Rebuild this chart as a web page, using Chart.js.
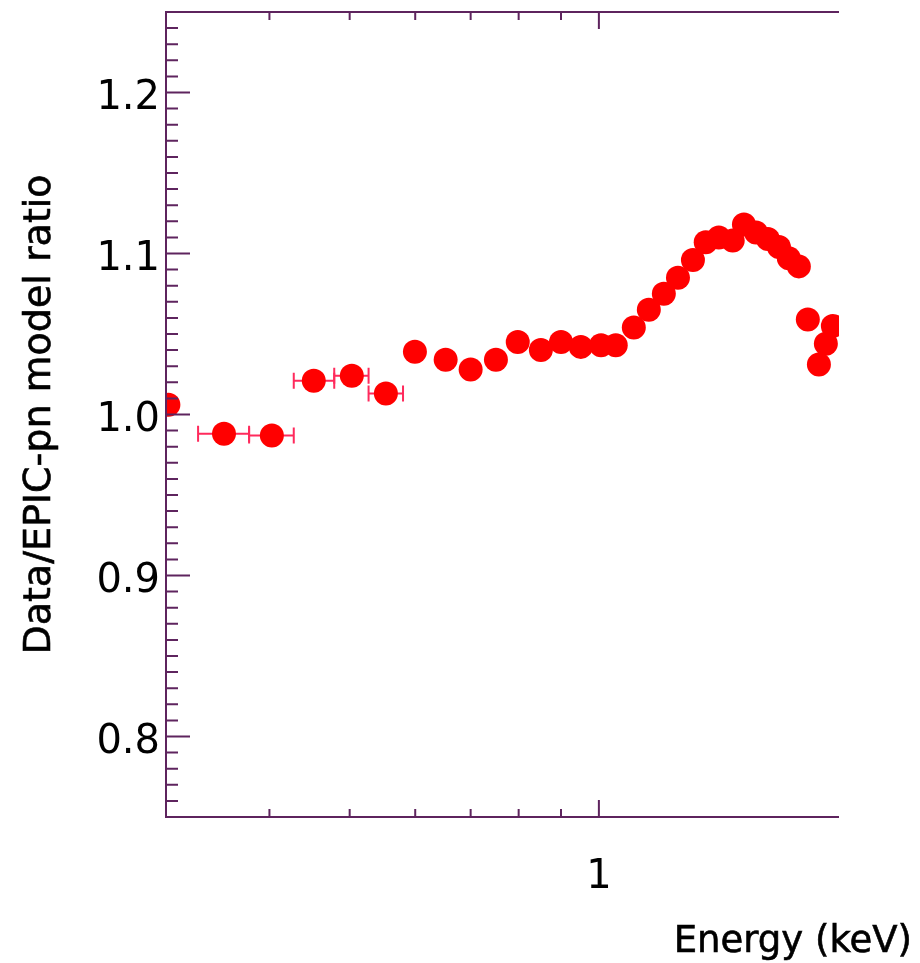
<!DOCTYPE html>
<html>
<head>
<meta charset="utf-8">
<title>Data/EPIC-pn model ratio</title>
<style>
  html, body { margin: 0; padding: 0; background: #fff; }
  canvas { display: block; }
</style>
<script src="https://cdn.jsdelivr.net/npm/chart.js@4.4.1/dist/chart.umd.min.js"></script>
</head>
<body>
<canvas id="ratioChart" width="920" height="963"></canvas>
<script>
// ratio data (energy in keV)
const energy = [0.302, 0.3525, 0.4027, 0.4525, 0.503, 0.553, 0.5995, 0.653, 0.700, 0.751,
                0.798, 0.851, 0.900, 0.951, 1.006, 1.048, 1.102, 1.149, 1.198, 1.246,
                1.299, 1.346, 1.396, 1.451, 1.497, 1.548, 1.600, 1.650, 1.696, 1.744,
                1.788, 1.844, 1.880, 1.917];
const ratio = [1.006, 0.988, 0.987, 1.021, 1.024, 1.013, 1.039, 1.034, 1.028, 1.034,
               1.045, 1.040, 1.045, 1.042, 1.043, 1.043, 1.054, 1.065, 1.075, 1.085,
               1.096, 1.107, 1.110, 1.108, 1.118, 1.113, 1.109, 1.104, 1.097, 1.092,
               1.059, 1.031, 1.044, 1.055];
// bin edges, only where the x error bar sticks out from under the marker
const binLo = [null, 0.328, 0.378, 0.428, 0.479, 0.527];
const binHi = [null, 0.378, 0.428, 0.479, 0.527, 0.580];

const xTicks = [0.4, 0.5, 0.6, 0.7, 0.8, 0.9, 1];
const xLabels = {1: '1'};
const yTicks = [0.8, 0.9, 1.0, 1.1, 1.2];
const yMinorStep = 0.01;

const AXIS = '#5e245e';
const FONT = '"DejaVu Sans", sans-serif';

// x error bars, drawn under the markers
const errorBars = {
  id: 'errorBars',
  beforeDatasetsDraw(chart) {
    const {ctx, chartArea: a, scales: {x, y}} = chart;
    ctx.save();
    ctx.beginPath();
    ctx.rect(a.left, a.top, a.right - a.left, a.bottom - a.top);
    ctx.clip();
    ctx.strokeStyle = '#ff2a5c';
    ctx.lineWidth = 2;
    for (let i = 0; i < binLo.length; i++) {
      if (binLo[i] == null) continue;
      const x0 = x.getPixelForValue(binLo[i]);
      const x1 = x.getPixelForValue(binHi[i]);
      const py = y.getPixelForValue(ratio[i]);
      ctx.beginPath();
      ctx.moveTo(x0, py); ctx.lineTo(x1, py);
      ctx.moveTo(x0, py - 8); ctx.lineTo(x0, py + 8);
      ctx.moveTo(x1, py - 8); ctx.lineTo(x1, py + 8);
      ctx.stroke();
    }
    ctx.restore();
  }
};

// IDL-style frame: left, bottom and top axes with inward ticks
const frame = {
  id: 'frame',
  afterDatasetsDraw(chart) {
    const {ctx, chartArea: a, scales: {x, y}} = chart;
    ctx.save();
    ctx.strokeStyle = AXIS;
    ctx.lineWidth = 2;
    ctx.beginPath();
    ctx.moveTo(a.right, a.top); ctx.lineTo(a.left, a.top);
    ctx.lineTo(a.left, a.bottom); ctx.lineTo(a.right, a.bottom);
    ctx.stroke();

    ctx.beginPath();
    for (const v of xTicks) {
      const px = x.getPixelForValue(v);
      const len = xLabels[v] ? 17 : 8;
      ctx.moveTo(px, a.bottom); ctx.lineTo(px, a.bottom - len);
      ctx.moveTo(px, a.top); ctx.lineTo(px, a.top + len);
    }
    const n = Math.round((y.max - y.min) / yMinorStep);
    for (let k = 1; k < n; k++) {
      const v = y.min + k * yMinorStep;
      const major = yTicks.some(t => Math.abs(t - v) < 1e-6);
      const py = y.getPixelForValue(v);
      ctx.moveTo(a.left, py); ctx.lineTo(a.left + (major ? 24 : 12), py);
    }
    ctx.stroke();
    ctx.restore();
  },
  afterDraw(chart) {
    const {ctx, chartArea: a} = chart;
    ctx.save();
    ctx.fillStyle = '#000';
    ctx.strokeStyle = '#000';
    ctx.lineWidth = 0.6;
    ctx.font = '37px ' + FONT;
    ctx.textAlign = 'right';
    ctx.textBaseline = 'alphabetic';
    ctx.fillText('Energy (keV)', 912, 952);
    ctx.strokeText('Energy (keV)', 912, 952);
    ctx.font = '38px ' + FONT;
    ctx.translate(50, (a.top + a.bottom) / 2);
    ctx.rotate(-Math.PI / 2);
    ctx.textAlign = 'center';
    ctx.fillText('Data/EPIC-pn model ratio', 0, 0);
    ctx.strokeText('Data/EPIC-pn model ratio', 0, 0);
    ctx.restore();
  }
};

const points = energy.map((e, i) => ({x: e, y: ratio[i]}));

new Chart(document.getElementById('ratioChart'), {
  type: 'scatter',
  data: {
    datasets: [{
      data: points,
      pointRadius: 12,
      pointHoverRadius: 12,
      pointBackgroundColor: '#ff0000',
      pointBorderWidth: 0,
      borderWidth: 0,
      clip: 0
    }]
  },
  options: {
    responsive: false,
    animation: false,
    devicePixelRatio: 1,
    layout: {padding: {top: 5, right: 81, left: 0, bottom: 0}},
    plugins: {legend: {display: false}, tooltip: {enabled: false}},
    scales: {
      x: {
        type: 'logarithmic',
        min: 0.3,
        max: 1.95,
        grid: {display: false, drawTicks: false},
        border: {display: false},
        afterBuildTicks: s => { s.ticks = xTicks.map(v => ({value: v})); },
        afterFit: s => { s.height = 146; s.paddingLeft = 0; s.paddingRight = 0; },
        ticks: {
          autoSkip: false,
          maxRotation: 0,
          padding: 37,
          color: '#000',
          font: {family: FONT, size: 40},
          callback: v => xLabels[v] || ''
        }
      },
      y: {
        min: 0.75,
        max: 1.25,
        grid: {display: false, drawTicks: false},
        border: {display: false},
        afterBuildTicks: s => { s.ticks = yTicks.map(v => ({value: v})); },
        afterFit: s => { s.width = 166; s.paddingTop = 0; s.paddingBottom = 0; },
        ticks: {
          padding: 6,
          labelOffset: 6,
          color: '#000',
          font: {family: FONT, size: 40},
          callback: v => v.toFixed(1)
        }
      }
    }
  },
  plugins: [errorBars, frame]
});
</script>
</body>
</html>
